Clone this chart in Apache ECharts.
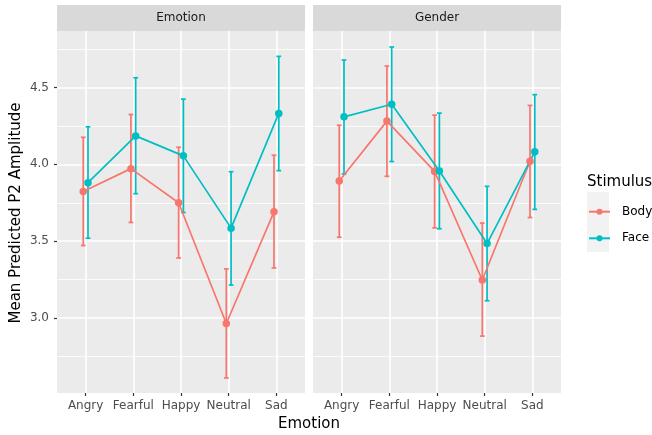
<!DOCTYPE html>
<html>
<head>
<meta charset="utf-8">
<script src="https://cdn.jsdelivr.net/npm/echarts@6/dist/echarts.min.js"></script>
<style>html,body{margin:0;padding:0;background:#fff;}#c{width:652px;height:435px;}</style>
</head>
<body>
<div id="c"></div>
<script>
// ---- data ----
var categories = ['Angry', 'Fearful', 'Happy', 'Neutral', 'Sad'];
var facets = ['Emotion', 'Gender'];
var stimuli = ['Body', 'Face'];
var yTicks = [3.0, 3.5, 4.0, 4.5];
var yMinorTicks = [2.75, 3.25, 3.75, 4.25, 4.75];

var emotionBody   = [3.824, 3.972, 3.750, 2.965, 3.691];
var emotionBodyLo = [3.472, 3.622, 3.391, 2.611, 3.326];
var emotionBodyHi = [4.176, 4.324, 4.111, 3.320, 4.059];
var emotionFace   = [3.881, 4.185, 4.055, 3.585, 4.331];
var emotionFaceLo = [3.520, 3.809, 3.687, 3.215, 3.959];
var emotionFaceHi = [4.244, 4.563, 4.424, 3.952, 4.702];

var genderBody   = [3.892, 4.281, 3.954, 3.248, 4.020];
var genderBodyLo = [3.526, 3.922, 3.587, 2.883, 3.654];
var genderBodyHi = [4.254, 4.639, 4.320, 3.618, 4.383];
var genderFace   = [4.309, 4.391, 3.957, 3.485, 4.081];
var genderFaceLo = [3.937, 4.018, 3.581, 3.113, 3.707];
var genderFaceHi = [4.678, 4.763, 4.333, 3.857, 4.453];

// ---- styling ----
var FONT = 'DejaVu Sans';
var colors = { Body: '#F8766D', Face: '#00BFC4' };
var dodge = { Body: -0.05, Face: 0.05 };
var capWidth = 0.1;
var LW = 1.7;
var panels = [
  { left: 57, name: facets[0], mean: { Body: emotionBody, Face: emotionFace },
    lo: { Body: emotionBodyLo, Face: emotionFaceLo }, hi: { Body: emotionBodyHi, Face: emotionFaceHi } },
  { left: 313, name: facets[1], mean: { Body: genderBody, Face: genderFace },
    lo: { Body: genderBodyLo, Face: genderFaceLo }, hi: { Body: genderBodyHi, Face: genderFaceHi } }
];
var PTOP = 31, PH = 362, PW = 248;
var YMIN = 2.513, YMAX = 4.867;

var chart = echarts.init(document.getElementById('c'), null, { renderer: 'canvas' });

var grids = [], xAxes = [], yAxes = [], series = [], graphics = [];
var catIdx = categories.map(function (c, i) { return i + 1; });

panels.forEach(function (p, pi) {
  grids.push({ left: p.left, top: PTOP, width: PW, height: PH, show: true,
    backgroundColor: '#EBEBEB', borderWidth: 0, containLabel: false });
  xAxes.push({
    type: 'value', gridIndex: pi, min: 0.4, max: 5.6,
    axisLine: { show: false },
    axisTick: { show: true, length: 3, lineStyle: { color: '#333333', width: 1.2 }, customValues: catIdx },
    axisLabel: { show: true, customValues: catIdx, margin: 7, color: '#4D4D4D', fontFamily: FONT, fontSize: 12,
      formatter: function (v) { var k = Math.round(v) - 1; return categories[k] || ''; } },
    splitLine: { show: true, lineStyle: { color: '#FFFFFF', width: 1.6 } }
  });
  yAxes.push({
    type: 'value', gridIndex: pi, min: YMIN, max: YMAX, position: 'left',
    axisLine: { show: false },
    axisTick: { show: pi === 0, length: 3, lineStyle: { color: '#333333', width: 1.2 }, customValues: yTicks },
    axisLabel: { show: pi === 0, customValues: yTicks, margin: 8, color: '#4D4D4D', fontFamily: FONT, fontSize: 12,
      formatter: function (v) { return v.toFixed(1); } },
    splitLine: { show: true, lineStyle: { color: '#FFFFFF', width: 1.6 } }
  });
  yAxes.push({
    type: 'value', gridIndex: pi, min: YMIN, max: YMAX, position: 'left',
    axisLine: { show: false },
    axisTick: { show: false, customValues: yMinorTicks },
    axisLabel: { show: false, customValues: yMinorTicks },
    splitLine: { show: true, lineStyle: { color: '#FFFFFF', width: 0.8 } }
  });
  var yIdx = pi * 2;

  stimuli.forEach(function (s) {
    var data = categories.map(function (c, i) { return [i + 1 + dodge[s], p.lo[s][i], p.hi[s][i]]; });
    series.push({
      type: 'custom', name: s + ' CI', xAxisIndex: pi, yAxisIndex: yIdx, z: 2,
      encode: { x: 0, y: [1, 2] },
      data: data,
      renderItem: (function (col) {
        return function (params, api) {
          var x = api.value(0), lo = api.value(1), hi = api.value(2);
          var a = api.coord([x, lo]), b = api.coord([x, hi]);
          var hc = api.size([capWidth, 0])[0] / 2;
          var st = { stroke: col, lineWidth: LW };
          return { type: 'group', children: [
            { type: 'line', shape: { x1: a[0], y1: a[1], x2: b[0], y2: b[1] }, style: st },
            { type: 'line', shape: { x1: b[0] - hc, y1: b[1], x2: b[0] + hc, y2: b[1] }, style: st },
            { type: 'line', shape: { x1: a[0] - hc, y1: a[1], x2: a[0] + hc, y2: a[1] }, style: st }
          ] };
        };
      })(colors[s])
    });
  });
  stimuli.forEach(function (s) {
    var data = categories.map(function (c, i) { return [i + 1 + dodge[s], p.mean[s][i]]; });
    series.push({
      type: 'line', name: s, xAxisIndex: pi, yAxisIndex: yIdx, z: 3,
      data: data, symbol: 'circle', symbolSize: 7.5, showSymbol: true,
      lineStyle: { color: colors[s], width: LW },
      itemStyle: { color: colors[s] },
      emphasis: { disabled: true }, animation: false
    });
  });

  graphics.push({ type: 'rect', left: p.left, top: 5, shape: { width: PW, height: 26 },
    style: { fill: '#D9D9D9' }, z: 0 });
  graphics.push({ type: 'text', x: p.left + PW / 2, y: 18,
    style: { text: p.name, fill: '#1A1A1A', font: '12px "' + FONT + '"', align: 'center', verticalAlign: 'middle' }, z: 1 });
});

graphics.push({ type: 'text', x: 309, y: 424,
  style: { text: 'Emotion', fill: '#000000', font: '15px "' + FONT + '"', align: 'center', verticalAlign: 'middle' } });
graphics.push({ type: 'text', x: 16, y: 213, rotation: Math.PI / 2,
  style: { text: 'Mean Predicted P2 Amplitude', fill: '#000000', font: '15px "' + FONT + '"', align: 'center', verticalAlign: 'middle' } });
graphics.push({ type: 'text', x: 587, y: 182,
  style: { text: 'Stimulus', fill: '#000000', font: '15px "' + FONT + '"', align: 'left', verticalAlign: 'middle' } });
graphics.push({ type: 'rect', left: 587, top: 192, shape: { width: 22, height: 60 },
  style: { fill: '#F2F2F2' }, z: 0 });

chart.setOption({
  animation: false,
  grid: grids,
  xAxis: xAxes,
  yAxis: yAxes,
  series: series,
  graphic: graphics,
  legend: {
    data: stimuli, orient: 'vertical', left: 588, top: 204.7,
    itemWidth: 21, itemHeight: 7.5, itemGap: 12.6, padding: 0,
    textStyle: { fontFamily: FONT, fontSize: 12, color: '#000000', lineHeight: 14, padding: [0, 0, 0, 7] },
    selectedMode: false
  }
});
</script>
</body>
</html>
